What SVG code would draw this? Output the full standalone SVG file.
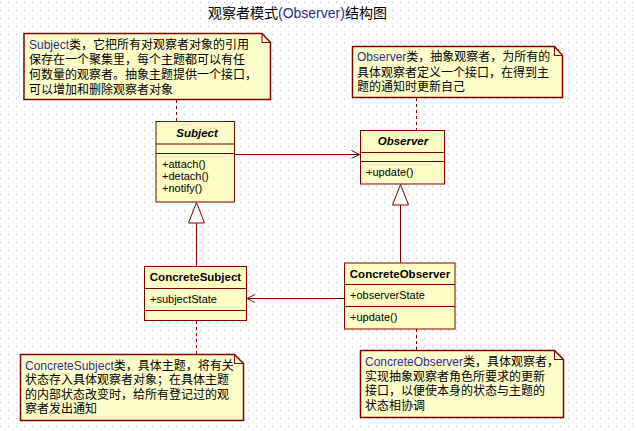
<svg xmlns="http://www.w3.org/2000/svg" width="636" height="431" viewBox="0 0 636 431">
<defs>
<pattern id="grid" x="0" y="2" width="8" height="8" patternUnits="userSpaceOnUse">
<rect x="0" y="0" width="1" height="1" fill="#b4b4b4"/>
</pattern>
<marker id="open" markerWidth="12" markerHeight="12" refX="9" refY="5" orient="auto" markerUnits="userSpaceOnUse">
<path d="M1,1 L9,5 L1,9" fill="none" stroke="#800000" stroke-width="1"/>
</marker>
</defs>
<style>
.box{fill:#ffffc6;stroke:#800000;stroke-width:1}
.note{fill:#ffffcc;stroke:#800000;stroke-width:1.5}
.sep{stroke:#800000;stroke-width:1}
.line{stroke:#800000;stroke-width:1;fill:none}
.dash{stroke:#800000;stroke-width:1;fill:none;stroke-dasharray:3,3}
.tri{fill:#ffffff;stroke:#800000;stroke-width:1}
.uml{font-family:"Liberation Sans",Arial,sans-serif;font-size:11px;fill:#000}
.name{font-family:"Liberation Sans",Arial,sans-serif;font-size:11.5px;font-weight:bold;fill:#000;text-anchor:middle}
.nt{font-family:"Liberation Sans","Noto Sans CJK SC",sans-serif;font-size:12px;fill:#000}
.lat{fill:#2e2e8c}
.title{font-family:"Liberation Sans","Noto Sans CJK SC",sans-serif;font-size:14px;fill:#000}
</style>
<rect x="0" y="0" width="636" height="431" fill="#ffffff"/>
<rect x="0" y="0" width="636" height="431" fill="url(#grid)"/>

<text class="title" x="208" y="18">观察者模式<tspan class="lat">(Observer)</tspan>结构图</text>

<g id="connectors">
<line class="dash" x1="176.5" y1="100" x2="176.5" y2="121.5"/>
<line class="dash" x1="416.5" y1="98" x2="416.5" y2="130.5"/>
<line class="dash" x1="196.5" y1="321" x2="196.5" y2="354"/>
<line class="dash" x1="416.5" y1="329" x2="416.5" y2="350"/>
<line class="line" x1="234.5" y1="154.5" x2="359.5" y2="154.5" marker-end="url(#open)"/>
<line class="line" x1="344" y1="298.5" x2="247" y2="298.5" marker-end="url(#open)"/>
<line class="line" x1="196.5" y1="223" x2="196.5" y2="266.5"/>
<polygon class="tri" points="196.5,202.5 188.5,223 204.5,223"/>
<line class="line" x1="400.5" y1="205" x2="400.5" y2="263"/>
<polygon class="tri" points="400.5,184.5 392.5,205 408.5,205"/>
</g>

<g id="note-subject">
<path class="note" d="M24,33.5 H262 L270.5,42.5 V99.5 H24 Z"/>
<path class="line" d="M262,33.5 V42.5 H270.5" stroke-width="1.2"/>
<text class="nt" x="29" y="48.5"><tspan class="lat">Subject</tspan>类，它把所有对观察者对象的引用</text>
<text class="nt" x="29" y="63.5">保存在一个聚集里，每个主题都可以有任</text>
<text class="nt" x="29" y="78.5">何数量的观察者。抽象主题提供一个接口，</text>
<text class="nt" x="29" y="93.5">可以增加和删除观察者对象</text>
</g>

<g id="note-observer">
<path class="note" d="M352.5,46.5 H554.5 L562.5,55.5 V97.5 H352.5 Z"/>
<path class="line" d="M554.5,46.5 V55.5 H562.5" stroke-width="1.2"/>
<text class="nt" x="357" y="61"><tspan class="lat">Observer</tspan>类，抽象观察者，为所有的</text>
<text class="nt" x="357" y="76.5">具体观察者定义一个接口，在得到主</text>
<text class="nt" x="357" y="91">题的通知时更新自己</text>
</g>

<g id="subject">
<rect class="box" x="156" y="121.5" width="78.5" height="80.5"/>
<line class="sep" x1="156" y1="144" x2="234.5" y2="144"/>
<line class="sep" x1="156" y1="153.5" x2="234.5" y2="153.5"/>
<text class="name" x="197" y="136.5" font-style="italic">Subject</text>
<text class="uml" x="162" y="167.5">+attach()</text>
<text class="uml" x="162" y="179.5">+detach()</text>
<text class="uml" x="162" y="191.5">+notify()</text>
</g>

<g id="observer">
<rect class="box" x="360.5" y="130.5" width="84" height="53.5"/>
<line class="sep" x1="360.5" y1="152.5" x2="444.5" y2="152.5"/>
<line class="sep" x1="360.5" y1="161.5" x2="444.5" y2="161.5"/>
<text class="name" x="403" y="145" font-style="italic">Observer</text>
<text class="uml" x="366" y="175.5">+update()</text>
</g>

<g id="concrete-subject">
<rect class="box" x="144.5" y="266.5" width="102" height="54"/>
<line class="sep" x1="144.5" y1="288.5" x2="246.5" y2="288.5"/>
<line class="sep" x1="144.5" y1="310.5" x2="246.5" y2="310.5"/>
<text class="name" x="195.5" y="281">ConcreteSubject</text>
<text class="uml" x="150" y="303">+subjectState</text>
</g>

<g id="concrete-observer">
<rect class="box" x="344.5" y="263" width="110.5" height="66"/>
<line class="sep" x1="344.5" y1="284.5" x2="455" y2="284.5"/>
<line class="sep" x1="344.5" y1="306.5" x2="455" y2="306.5"/>
<text class="name" x="400" y="277.5">ConcreteObserver</text>
<text class="uml" x="350" y="298.5">+observerState</text>
<text class="uml" x="350" y="321">+update()</text>
</g>

<g id="note-concrete-subject">
<path class="note" d="M20.5,354.5 H234.5 L243.5,363.5 V420.5 H20.5 Z"/>
<path class="line" d="M234.5,354.5 V363.5 H243.5" stroke-width="1.2"/>
<text class="nt" x="25" y="369.5"><tspan class="lat">ConcreteSubject</tspan>类，具体主题，将有关</text>
<text class="nt" x="25" y="384">状态存入具体观察者对象；在具体主题</text>
<text class="nt" x="25" y="398.5">的内部状态改变时，给所有登记过的观</text>
<text class="nt" x="25" y="413">察者发出通知</text>
</g>

<g id="note-concrete-observer">
<path class="note" d="M360.5,350.5 H554.5 L563.5,359.5 V417.5 H360.5 Z"/>
<path class="line" d="M554.5,350.5 V359.5 H563.5" stroke-width="1.2"/>
<text class="nt" x="365" y="366"><tspan class="lat">ConcreteObserver</tspan>类，具体观察者，</text>
<text class="nt" x="365" y="380.5">实现抽象观察者角色所要求的更新</text>
<text class="nt" x="365" y="395">接口，以便使本身的状态与主题的</text>
<text class="nt" x="365" y="409.5">状态相协调</text>
</g>
</svg>
